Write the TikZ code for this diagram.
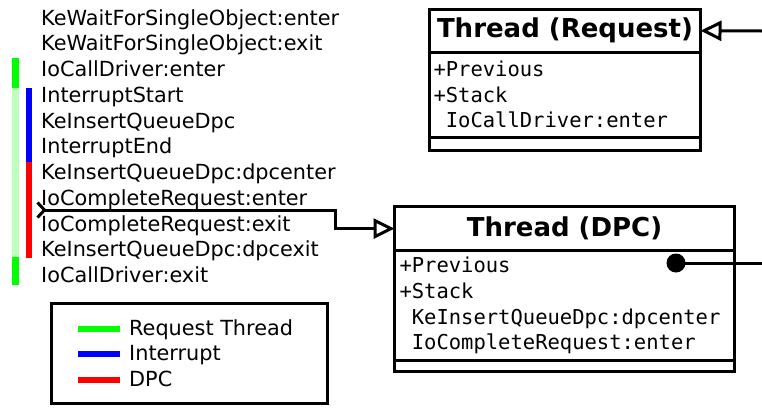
\documentclass[tikz,border=0pt]{standalone}
\usepackage{fontspec}
\setmainfont{DejaVu Sans}
\setmonofont{DejaVu Sans Mono}
\usetikzlibrary{arrows.meta,positioning}
\definecolor{reqgreen}{RGB}{0,255,0}
\definecolor{reqlight}{RGB}{190,255,190}
\definecolor{intblue}{RGB}{0,0,255}
\definecolor{dpcred}{RGB}{255,0,0}

\begin{document}
\begin{tikzpicture}[x=1pt,y=-1pt,
   every node/.style={font=\fontsize{20.8}{25.8}\selectfont},
   event/.style={anchor=base west,inner sep=0pt},
   classtitle/.style={draw,line width=3pt,outer sep=0pt,inner sep=0pt,
      font=\fontsize{26}{30}\selectfont\bfseries},
   classattr/.style={draw,line width=3pt,outer sep=0pt,inner ysep=0pt,
      align=left,font=\fontsize{20.5}{25.8}\selectfont\ttfamily},
   classops/.style={draw,line width=3pt,outer sep=0pt,inner sep=0pt},
   link/.style={line width=3pt},
   sample/.style={line width=6.5pt}]
\useasboundingbox (0,0) rectangle (762,407);

% call trace
\foreach \ev [count=\i] in {KeWaitForSingleObject:enter,KeWaitForSingleObject:exit,
   IoCallDriver:enter,InterruptStart,KeInsertQueueDpc,InterruptEnd,
   KeInsertQueueDpc:dpcenter,IoCompleteRequest:enter,IoCompleteRequest:exit,
   KeInsertQueueDpc:dpcexit,IoCallDriver:exit}
   \node[event] (ev\i) at (41,{25+25.77*(\i-1)}) {\ev};

\fill[reqgreen] (12,58) rectangle (19,88);
\fill[reqlight] (12,88) rectangle (19,257);
\fill[reqgreen] (12,257) rectangle (19,285);
\fill[intblue] (25.5,88) rectangle (31.5,162);
\fill[dpcred] (25.5,162) rectangle (31.5,258);

% threads
\node[classtitle,minimum width=271pt,minimum height=42.5pt] (reqtitle) at (565,30.75) {Thread (Request)};
\node[classattr,text width=263pt,inner xsep=4pt,minimum height=85pt,below=0pt of reqtitle] (reqattr)
   {+Previous\\+Stack\\\phantom{+}IoCallDriver:enter};
\node[classops,minimum width=271pt,minimum height=13.5pt,below=0pt of reqattr] (reqops) {};

\node[classtitle,minimum width=340pt,minimum height=44pt] (dpctitle) at (564.5,228.6) {Thread (DPC)};
\node[classattr,text width=330pt,inner xsep=5pt,minimum height=110pt,below=0pt of dpctitle] (dpcattr)
   {+Previous\\+Stack\\\phantom{+}KeInsertQueueDpc:dpcenter\\\phantom{+}IoCompleteRequest:enter};
\node[classops,minimum width=340pt,minimum height=10.5pt,below=0pt of dpcattr] (dpcops) {};

\coordinate (hook) at (36,210);
\coordinate (reqin) at (762,31);
\coordinate (dot) at (676,263);
\coordinate (dpcout) at (762,263);

\draw[link,{Straight Barb[reversed,length=7pt,width=15pt]}-{Triangle[open,length=21pt,width=20pt]}]
   (hook) -- (335,210) |- (dpctitle.west);
\draw[link,-{Triangle[open,length=21pt,width=20pt]}] (reqin) -- (reqtitle.east);
\fill (dot) circle (9.5);
\draw[link] (dot) -- (dpcout);

% legend
\node[draw,line width=3pt,outer sep=0pt,minimum width=276pt,minimum height=100pt] (legend) at (189.5,353.5) {};
\foreach \y/\c/\t [count=\i] in {329/reqgreen/Request Thread,354/intblue/Interrupt,380/dpcred/DPC} {
   \draw[sample,\c] (78,\y) -- (120,\y);
   \node[event] (key\i) at (129,\y+6.5) {\t};
}
\end{tikzpicture}
\end{document}
